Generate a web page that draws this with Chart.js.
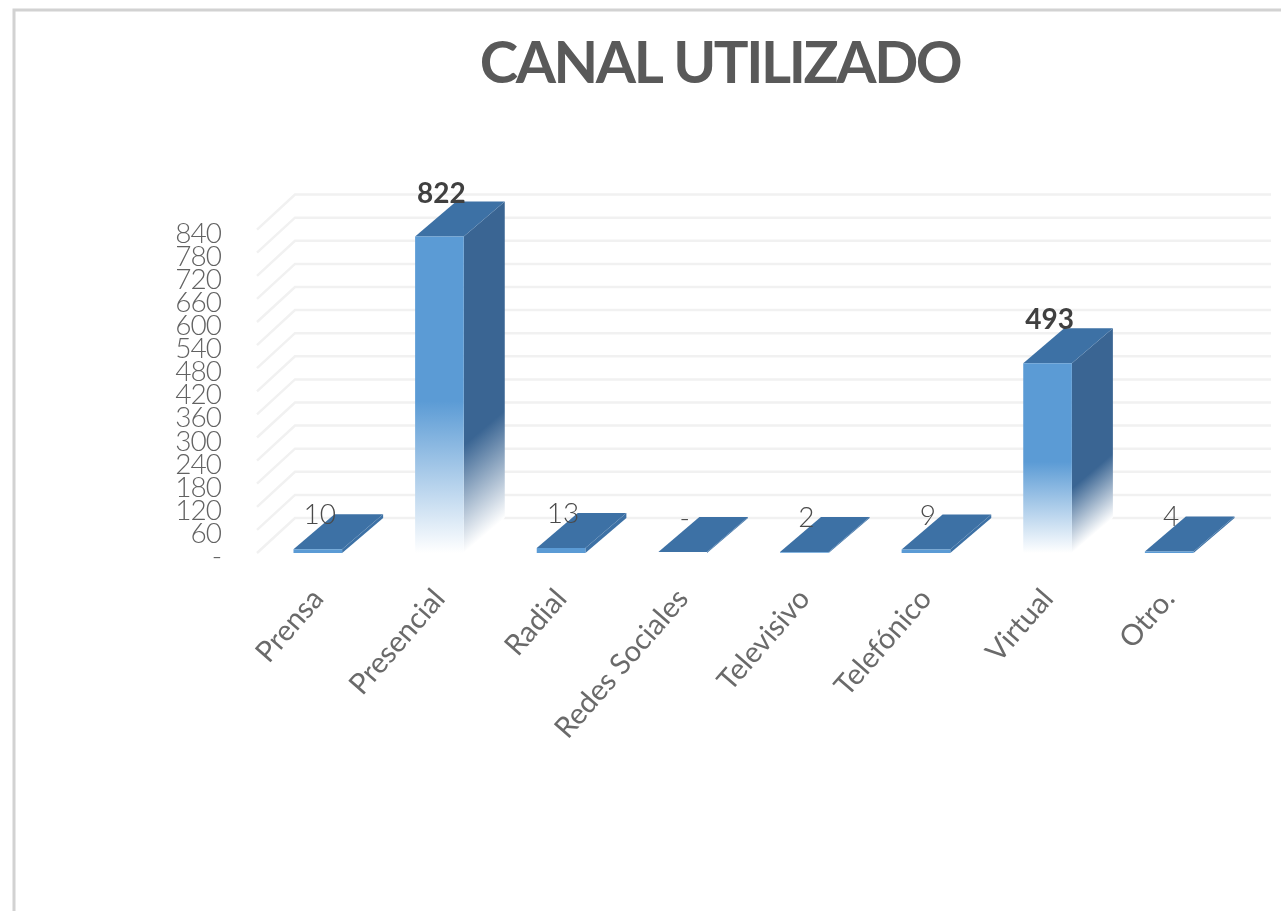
<!DOCTYPE html>
<html><head><meta charset="utf-8">
<style>html,body{margin:0;padding:0;background:#fff}canvas{display:block}</style>
<script src="https://cdn.jsdelivr.net/npm/chart.js@4"></script>
</head><body>
<canvas id="c" width="1281" height="911"></canvas>
<script>
const categories=["Prensa","Presencial","Radial","Redes Sociales","Televisivo","Telefónico","Virtual","Otro."];
const values=[10,822,13,0,2,9,493,4];
const titleText="CANAL UTILIZADO";
const yMax=840, yStep=60;
const DX=41, DY=35;
const FRONT="#5b9bd5", SIDE="#3a6593", TOP="#3d71a5";

function fade(g,color,solid,clear){g.addColorStop(0,color);g.addColorStop(solid,color);g.addColorStop(clear,'rgba(255,255,255,1)');if(clear<1)g.addColorStop(1,'rgba(255,255,255,1)');return g;}

const depth3d={
  id:'depth3d',
  afterLayout(chart){
    const c=chart.ctx,y=chart.scales.y,t=chart.titleBlock;
    if(y.__patched)return;y.__patched=true;
    // tick labels stick out of the narrow axis box, and sit a little below their tick
    y.left=150;
    const dl=y.drawLabels;
    y.drawLabels=function(a){c.save();c.translate(0,4);c.letterSpacing='-1px';dl.call(this,a);c.letterSpacing='0px';c.restore();};
    const dt=t.draw;
    t.draw=function(){c.letterSpacing='-2.4px';dt.call(this);c.letterSpacing='0px';};
  },
  beforeDraw(chart){
    const c=chart.ctx;c.save();
    c.strokeStyle='#d2d2d2';c.lineWidth=3;
    c.beginPath();c.moveTo(14,911);c.lineTo(14,10);c.lineTo(1281,10);c.stroke();
    c.restore();
  },
  beforeDatasetsDraw(chart){
    const c=chart.ctx,y=chart.scales.y,x=chart.scales.x;
    c.save();
    c.strokeStyle='#f1f1f1';c.lineWidth=2.5;
    y.ticks.forEach(t=>{
      const py=y.getPixelForValue(t.value);
      c.beginPath();c.moveTo(x.left,py);c.lineTo(x.left+DX-3,py-DY);c.lineTo(x.right+DX,py-DY);c.stroke();
    });
    const base=y.getPixelForValue(0);
    chart.getDatasetMeta(0).data.forEach(b=>{
      const l=b.x-b.width/2,r=b.x+b.width/2,t=Math.min(b.y,base-1);
      // side face, gradient isolines follow the depth direction
      c.save();
      c.transform(1,-DY/DX,0,1,r,0);
      c.fillStyle=(base-t<20)?TOP:fade(c.createLinearGradient(0,t,0,base),SIDE,.66,1);
      c.fillRect(0,t,DX,base-t);
      c.restore();
      // top face
      c.fillStyle=TOP;
      c.beginPath();c.moveTo(l,t);c.lineTo(r,t);c.lineTo(r+DX,t-DY);c.lineTo(l+DX,t-DY);c.closePath();c.fill();
    });
    c.restore();
  },
  afterDatasetsDraw(chart){
    const c=chart.ctx;
    c.save();c.textAlign='center';c.textBaseline='middle';
    chart.getDatasetMeta(0).data.forEach((b,i)=>{
      const v=values[i],big=v>100;
      c.font=(big?'700 ':'300 ')+'28px Lato';
      c.fillStyle=big?'#404040':'#4a4a4a';
      c.fillText(v===0?'-':String(v),b.x+2,b.y-(big?43:34));
    });
    c.restore();
  }
};

new Chart(document.getElementById('c'),{
  type:'bar',
  data:{labels:categories,datasets:[{
    data:values,
    barPercentage:1,categoryPercentage:.4,
    backgroundColor(ctx){
      const ch=ctx.chart;
      if(!ch.chartArea||ctx.type!=='data')return FRONT;
      const y=ch.scales.y,t=y.getPixelForValue(values[ctx.dataIndex]),b=y.getPixelForValue(0);
      if(b-t<20)return FRONT;
      return fade(ch.ctx.createLinearGradient(0,t,0,b),FRONT,.52,1);
    },
    borderWidth:0
  }]},
  plugins:[depth3d],
  options:{
    responsive:false,animation:false,
    layout:{padding:{left:210,right:51,top:0,bottom:0}},
    plugins:{
      legend:{display:false},tooltip:{enabled:false},
      title:{display:true,text:titleText,color:'#595959',
        font:{family:'Lato',weight:'700',size:58,lineHeight:1.2},
        padding:{top:29,bottom:131}}
    },
    scales:{
      x:{
        grid:{display:false},border:{display:false},
        afterFit(s){s.height=358},
        ticks:{color:'#6a6a6a',font:{family:'Lato',weight:'400',size:29},minRotation:49,maxRotation:49,autoSkip:false,padding:21}
      },
      y:{
        min:0,max:yMax,
        grid:{display:false},border:{display:false},
        afterFit(s){s.width=47},
        ticks:{stepSize:yStep,autoSkip:false,color:'#626262',font:{family:'Lato',weight:'300',size:28},padding:28,
          callback:v=>v===0?'-':String(v)}
      }
    }
  }
});
</script>
</body></html>
